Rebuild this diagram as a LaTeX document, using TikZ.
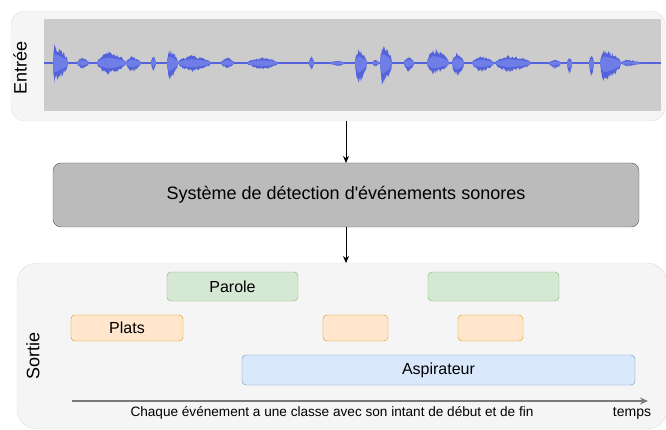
\documentclass[tikz,border=0pt]{standalone}
\usepackage{fontspec}
\setmainfont{Liberation Sans}
\usetikzlibrary{arrows.meta}
\definecolor{panelfill}{HTML}{F5F5F5}
\definecolor{panelline}{HTML}{DEDEDE}
\definecolor{wavebg}{HTML}{CCCCCC}
\definecolor{wavedark}{RGB}{84,98,220}
\definecolor{wavelight}{RGB}{110,126,230}
\definecolor{sysfill}{HTML}{BBBBBB}
\definecolor{sysline}{HTML}{555555}
\definecolor{grfill}{HTML}{D5E8D4}
\definecolor{grline}{HTML}{82B366}
\definecolor{orfill}{HTML}{FFE6CC}
\definecolor{orline}{HTML}{D79B00}
\definecolor{blfill}{HTML}{DAE8FC}
\definecolor{blline}{HTML}{6C8EBF}
\definecolor{axisline}{HTML}{7A7A7A}

\begin{document}
\begin{tikzpicture}[x=1pt, y=-1pt,
  panel/.style={draw=panelline, fill=panelfill, inner sep=0pt, outer sep=0pt},
  sysbox/.style={draw=sysline, fill=sysfill, rounded corners=8pt, inner sep=0pt, outer sep=0pt, font=\fontsize{18}{20}\selectfont},
  bar/.style={rounded corners=4pt, inner sep=0pt, outer sep=0pt, font=\fontsize{16}{18}\selectfont},
  side/.style={rotate=90, inner sep=0pt, font=\fontsize{18}{20}\selectfont},
  flow/.style={-{Stealth[length=7pt, width=6pt]}, line width=0.9pt, black},
  declare function={wenv(\t,\p)=((\t<\p) ? (\t/\p) : ((1-\t)/(1-\p)))^0.5;}
]
\useasboundingbox (0,0) rectangle (666,430);
\pgfmathsetseed{7}

% input panel with the waveform
\node[panel, rounded corners=14pt, minimum width=654pt, minimum height=110pt] (inp) at (338,66){};
\fill[wavebg] (44,19) rectangle (661,111);
\draw[wavedark, line width=1.6pt] (44,63) -- (661,63);
\foreach \xs/\xe/\au/\al/\pk in {53/68/16/17/0.1, 77/89/5/5/0.4, 97/126/10/10/0.4, 126/141/6/8/0.4,
  151/156/7/7/0.5, 167/178/12/15/0.2, 178/211/7/8/0.4, 221/234/5/5/0.5, 247/278/5/6/0.5,
  309/314/6/6/0.5, 330/345/2/3/0.5, 355/367/12/18/0.3, 372/379/3/3/0.5, 380/392/17/20/0.2,
  404/414/6/8/0.4, 427/449/13/10/0.3, 452/464/9/12/0.4, 472/494/6/8/0.4, 495/531/7/8/0.4,
  549/561/3/5/0.5, 567/572/5/10/0.5, 589/594/7/12/0.5, 600/621/12/17/0.2, 621/641/3/3/0.3}{
  \fill[wavedark] plot[domain=\xs:\xe, samples=30] (\x, {63-1.2*\au*(0.6+0.4*rnd)*wenv((\x-\xs)/(\xe-\xs),\pk)})
    -- plot[domain=\xe:\xs, samples=30] (\x, {63+1.2*\al*(0.6+0.4*rnd)*wenv((\x-\xs)/(\xe-\xs),\pk)}) -- cycle;
  \fill[wavelight] plot[domain=\xs:\xe, samples=20] (\x, {63-0.55*\au*wenv((\x-\xs)/(\xe-\xs),\pk)})
    -- plot[domain=\xe:\xs, samples=20] (\x, {63+0.55*\al*wenv((\x-\xs)/(\xe-\xs),\pk)}) -- cycle;
}
\node[side] (inlab) at (20,68){Entrée};

% detection system
\node[sysbox, minimum width=586pt, minimum height=64pt] (sys) at (346,195){Système de détection d\textquotesingle événements sonores};

% output panel
\node[panel, rounded corners=20pt, minimum width=650pt, minimum height=166pt] (out) at (342,346){};
\node[side] (outlab) at (33,356){Sortie};

\node[bar, draw=grline, fill=grfill, minimum width=131pt, minimum height=29pt] (ev0) at (232.5,286.5){Parole};
\node[bar, draw=grline, fill=grfill, minimum width=131pt, minimum height=29pt] (ev1) at (493.5,286.5){};
\node[bar, draw=orline, fill=orfill, minimum width=112pt, minimum height=26pt] (ev2) at (127,328){Plats};
\node[bar, draw=orline, fill=orfill, minimum width=65pt, minimum height=26pt] (ev3) at (355.5,328){};
\node[bar, draw=orline, fill=orfill, minimum width=65pt, minimum height=26pt] (ev4) at (490.5,328){};
\node[bar, draw=blline, fill=blfill, minimum width=393pt, minimum height=30pt] (ev5) at (438.5,370){Aspirateur};

% time axis
\coordinate (t0) at (72,401);
\coordinate (t1) at (648,401);
\draw[axisline, line width=1.6pt, -{Stealth[length=8pt, width=7pt]}] (t0) -- (t1);
\node[font=\fontsize{13.6}{15}\selectfont] (cap) at (332,413){Chaque événement a une classe avec son intant de début et de fin};
\node[font=\fontsize{14}{16}\selectfont] (tlab) at (632,413){temps};

\draw[flow] (sys.north |- inp.south) -- (sys.north);
\draw[flow] (sys.south) -- (sys.south |- out.north);

\end{tikzpicture}
\end{document}
